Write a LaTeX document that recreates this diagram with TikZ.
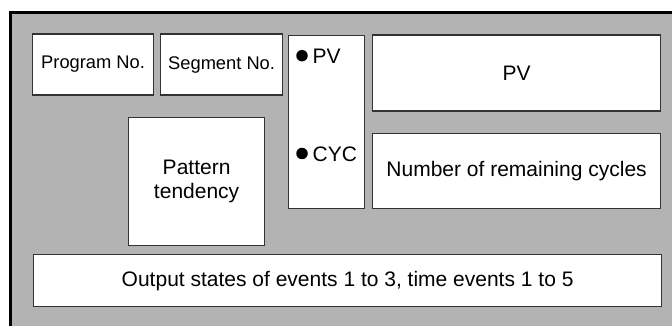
\documentclass[tikz,border=0pt]{standalone}
\usepackage{fontspec}
\setmainfont{Liberation Sans}
\definecolor{panelgray}{HTML}{B3B3B3}
\definecolor{edgegray}{HTML}{333333}
\begin{document}
\begin{tikzpicture}[x=1pt,y=-1pt,
  box/.style={draw=edgegray, line width=1.2pt, fill=white, anchor=north west, inner sep=0pt, align=center, font=\fontsize{21}{24}\selectfont},
  smallbox/.style={box, font=\fontsize{18.3}{22}\selectfont},
  lab/.style={anchor=base west, inner sep=0pt, font=\fontsize{21}{24}\selectfont},
  dot/.style={circle, fill=black, inner sep=0pt, minimum size=11.5pt}]
\useasboundingbox (0,0) rectangle (672,326);
\fill[panelgray] (10.5,13) rectangle (672,326);
\draw[line width=3pt, line cap=rect] (10.5,326) -- (10.5,13) -- (672,13);
\node[smallbox, minimum width=121pt, minimum height=61pt] (prog) at (32,33.5) {Program No.};
\node[smallbox, minimum width=122pt, minimum height=61pt] (seg) at (160,33.5) {Segment No.};
\node[box, minimum width=76pt, minimum height=173pt] (col) at (288,35) {};
\node[dot] (pvdot) at (302,55.7) {};
\node[lab] (pvlab) at (312.5,63.3) {PV};
\node[dot] (cycdot) at (302,153.5) {};
\node[lab] (cyclab) at (312.5,161.7) {CYC};
\node[box, minimum width=288pt, minimum height=76pt] (pv) at (372,34.5) {PV};
\node[box, minimum width=288pt, minimum height=75pt] (cyc) at (372,133) {Number of remaining cycles};
\node[box, minimum width=136pt, minimum height=128pt] (pat) at (128,117) {Pattern\\tendency};
\node[box, minimum width=628pt, minimum height=52pt] (out) at (33,254) {Output states of events 1 to 3, time events 1 to 5};
\end{tikzpicture}
\end{document}
